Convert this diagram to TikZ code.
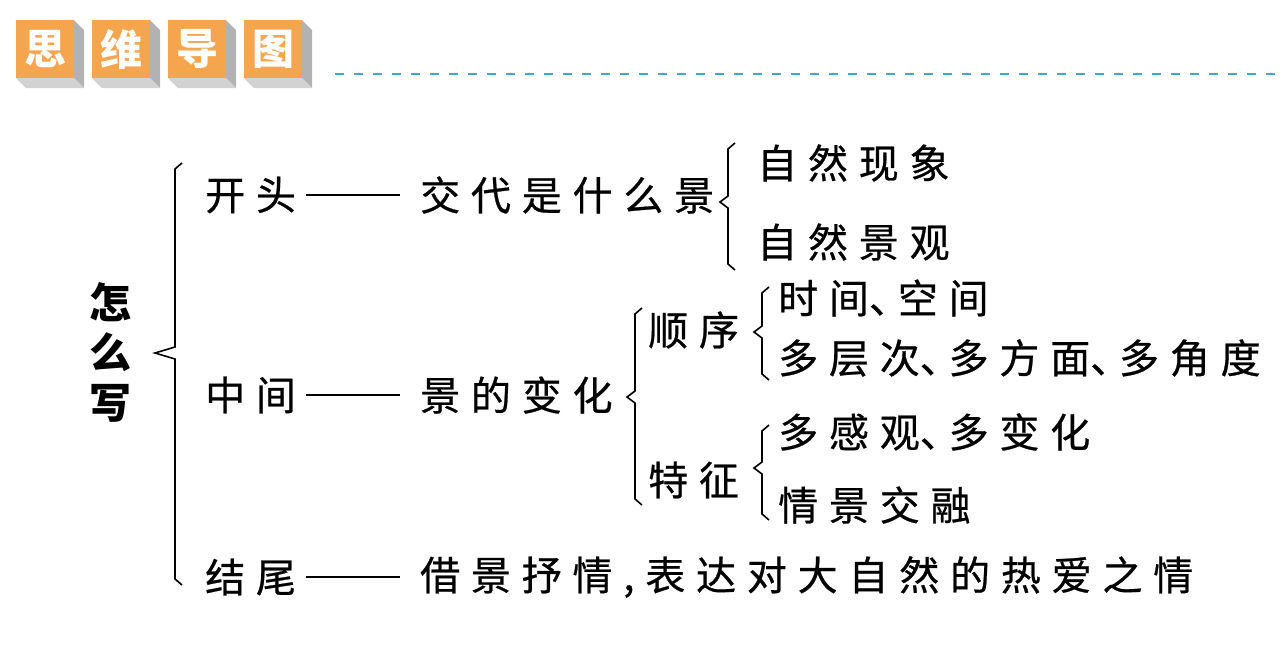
\documentclass[tikz,border=0pt]{standalone}
\usepackage{fontspec}
\setmainfont{Noto Sans CJK SC}
\newfontfamily\kai{Noto Sans CJK SC}[LetterSpace=27,FakeBold=0.6]
\definecolor{hdorange}{HTML}{F5A54E}
\definecolor{hdline}{HTML}{3FA6D6}
\newcommand{\dun}{\makebox[0.72em][l]{、}}
\begin{document}
\begin{tikzpicture}[
    x=1pt,y=-1pt,
    txt/.style={anchor=west,inner sep=0pt,font=\kai\fontsize{40}{48}\selectfont},
    brc/.style={line width=1.6pt,line join=miter},
    lnk/.style={line width=2.6pt},
    hd/.style={fill=hdorange,minimum size=58pt,inner sep=0pt,text=white,font=\bfseries\fontsize{42}{42}\selectfont},
  ]
  \useasboundingbox (0,0) rectangle (1285,649);
  \def\brc#1#2#3#4#5{\draw[brc] (#1+7,#2) -- (#1,#2+6) -- (#1,#3-6) -- (#1-#5,#3) -- (#1,#3+6) -- (#1,#4-6) -- (#1+7,#4);}
  \foreach \i/\ch in {0/思,1/维,2/导,3/图}{
    \fill[gray!60] (74+76*\i,20) -- ++(10,10) -- ++(0,58) -- ++(-10,-10) -- cycle;
    \fill[gray!35] (16+76*\i,78) -- ++(58,0) -- ++(10,10) -- ++(-58,0) -- cycle;
    \node[hd] (h\i) at (45+76*\i,49) {\ch};
  }
  \draw[hdline,line width=2pt,dash pattern=on 9pt off 10pt] (335,74) -- (1275,74);
  \node[font=\bfseries\fontsize{42}{50}\selectfont,align=center,inner sep=0pt] (zmx) at (110,352) {怎\\么\\写};
  \node[txt] (kt) at (205,195) {开头};
  \node[txt] (zj) at (205,395) {中间};
  \node[txt] (jw) at (205,577) {结尾};
  \node[txt] (jd) at (420,195) {交代是什么景};
  \node[txt] (bh) at (420,395) {景的变化};
  \node[txt] (jq) at (420,577) {借景抒情,表达对大自然的热爱之情};
  \node[txt] (xx) at (757,163) {自然现象};
  \node[txt] (jg) at (757,242) {自然景观};
  \node[txt] (sx) at (648,330) {顺序};
  \node[txt] (tz) at (648,480) {特征};
  \node[txt] (sj) at (778,298) {时间\dun 空间};
  \node[txt] (dc) at (778,358) {多层次\dun 多方面\dun 多角度};
  \node[txt] (gg) at (778,432) {多感观\dun 多变化};
  \node[txt] (rj) at (778,505) {情景交融};
  \foreach \a/\b in {kt/jd,zj/bh,jw/jq}
    \draw[lnk,shorten <=10pt,shorten >=20pt] (\a.east) -- (\b.west);
  \brc{175}{163}{353}{585}{20}
  \brc{728}{143}{202}{270}{8}
  \brc{635}{308}{397}{505}{8}
  \brc{762}{287}{332}{380}{8}
  \brc{762}{425}{468}{520}{8}
\end{tikzpicture}
\end{document}
